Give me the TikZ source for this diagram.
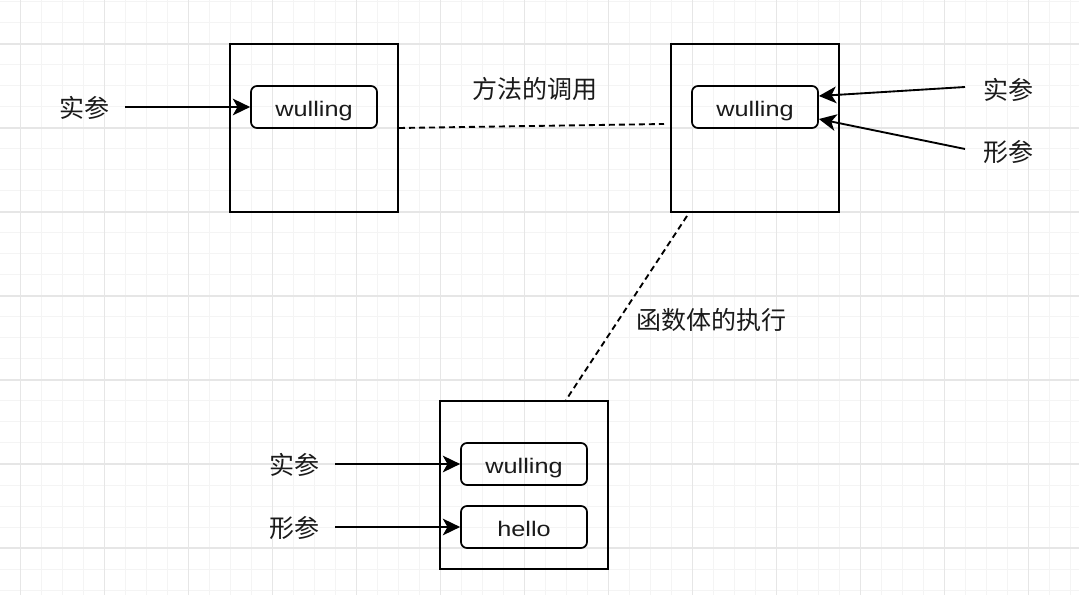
\documentclass[tikz,border=0pt]{standalone}
\usepackage{fontspec}
\setmainfont{Noto Sans CJK SC}
\newfontfamily\latfont[FakeStretch=1.2]{Liberation Sans}
\usetikzlibrary{arrows.meta,calc}
\definecolor{gridmajor}{HTML}{E6E6E6}
\definecolor{gridminor}{HTML}{F4F4F4}
\definecolor{txt}{HTML}{1A1A1A}
\tikzset{
  outerbox/.style={draw=black, line width=1.5pt, rectangle, inner sep=0pt,
    minimum width=126pt, minimum height=126pt, fill=none},
  valbox/.style={draw=black, line width=1.3pt, rectangle, rounded corners=4.5pt,
    inner sep=0pt, minimum width=94.5pt, minimum height=31.5pt,
    text height=15pt, text depth=0.4pt,
    font=\latfont\fontsize{15.8}{18}\selectfont, text=txt},
  cjklabel/.style={inner sep=0pt, font=\fontsize{18.75}{22}\selectfont, text=txt},
  argarrow/.style={draw=black, line width=1.4pt,
    -{Stealth[length=13pt, width=12.5pt, inset=3.5pt]}},
  dashlink/.style={draw=black, line width=1.4pt, dash pattern=on 4.5pt off 3pt},
  gminor/.style={draw=gridminor, line width=0.75pt},
  gmajor/.style={draw=gridmajor, line width=0.9pt}
}
\begin{document}
\begin{tikzpicture}[x=0.75pt, y=-0.75pt]
\useasboundingbox (0,0) rectangle (1079,595);
\fill[white] (0,0) rectangle (1079,595);
\begin{scope}
\clip (0,0) rectangle (1079,595);
\foreach \i in {-1,...,51} {\draw[gminor] ({20.7+21*\i},0) -- ({20.7+21*\i},595);}
\foreach \j in {-2,...,26} {\draw[gminor] (0,{44+21*\j}) -- (1079,{44+21*\j});}
\foreach \i in {0,...,12} {\draw[gmajor] ({20.7+84*\i},0) -- ({20.7+84*\i},595);}
\foreach \j in {0,...,6} {\draw[gmajor] (0,{44+84*\j}) -- (1079,{44+84*\j});}
\end{scope}

% boxes
\node[outerbox] (b1) at (314,128) {};
\node[valbox] (v1) at (314,107) {wulling};
\node[outerbox] (b2) at (755,128) {};
\node[valbox] (v2) at (755,107) {wulling};
\node[outerbox] (b3) at (524,485) {};
\node[valbox] (v3a) at (524,464) {wulling};
\node[valbox] (v3b) at (524,527) {hello};

% labels
\node[cjklabel] (l1) at (85,108) {实参};
\node[cjklabel] (lcall) at (535,89) {方法的调用};
\node[cjklabel] (l2a) at (1008,90) {实参};
\node[cjklabel] (l2b) at (1008,152) {形参};
\node[cjklabel] (lexec) at (711,320) {函数体的执行};
\node[cjklabel] (l3a) at (294,465) {实参};
\node[cjklabel] (l3b) at (294,528) {形参};

% arrow start points
\coordinate (s1) at (125,107);
\coordinate (s2a) at (965,87);
\coordinate (s2b) at (965,149);
\coordinate (s3a) at (335,464);
\coordinate (s3b) at (335,527);

\draw[argarrow] (s1) -- (v1.west);
\draw[argarrow] (s2a) -- ($(v2.east)+(0,-11)$);
\draw[argarrow] (s2b) -- ($(v2.east)+(0,12)$);
\draw[argarrow] (s3a) -- (v3a.west);
\draw[argarrow] (s3b) -- (v3b.west);

% dashed links
\coordinate (d1e) at ($(b2.west)+(-6,-4)$);
\draw[dashlink] (b1.east) -- (d1e);
\coordinate (d2s) at ($(b2.south)+(-68,3)$);
\coordinate (d2e) at ($(b3.north)+(42,0)$);
\draw[dashlink] (d2s) -- (d2e);
\end{tikzpicture}
\end{document}
